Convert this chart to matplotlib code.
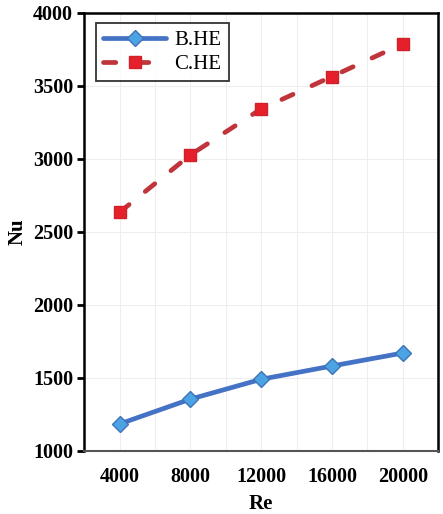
import matplotlib
matplotlib.use("Agg")
import matplotlib.pyplot as plt

re_vals = [4000, 8000, 12000, 16000, 20000]
nu_bhe = [1182, 1352, 1488, 1579, 1668]
nu_che = [2632, 3025, 3340, 3562, 3786]

plt.rcParams['font.family'] = ['Liberation Serif', 'DejaVu Serif']

fig = plt.figure(figsize=(4.43, 5.14), dpi=100)
ax = fig.add_axes([0.19, 0.1235, 0.799, 0.852])

ax.plot(re_vals, nu_bhe, '-', color='#4472C4', lw=3.4, marker='D', ms=8.5,
        mfc='#4BA3E3', mec='#3F73B8', mew=1, label='B.HE',
        solid_capstyle='round')
ax.plot(re_vals, nu_che, '--', color='#C0343C', lw=3.4, dashes=(2.6, 4.4),
        dash_capstyle='round', marker='s', ms=8.5, mfc='#E5202A',
        mec='#D0202A', mew=1, label='C.HE')

ax.set_xlim(2000, 22000)
ax.set_ylim(1000, 4000)
ax.set_xticks(re_vals)
ax.set_xticks(range(2000, 22001, 2000), minor=True)
ax.set_yticks(range(1000, 4001, 500))
ax.grid(which='minor', axis='x', color='#EEEEEE', lw=0.8)
ax.grid(which='major', axis='both', color='#EEEEEE', lw=0.8)
ax.set_axisbelow(True)

ax.tick_params(axis='x', which='both', length=0, pad=12, labelsize=14.5)
ax.tick_params(axis='y', length=5, width=2, direction='out', pad=3, labelsize=14.5)
for lab in ax.get_xticklabels() + ax.get_yticklabels():
    lab.set_fontweight('bold')

for s in ['left', 'top', 'right']:
    ax.spines[s].set_linewidth(1.8)
    ax.spines[s].set_color('black')
ax.spines['bottom'].set_linewidth(1.5)
ax.spines['bottom'].set_color('#555555')

ax.set_xlabel('Re', fontsize=15, fontweight='bold', labelpad=5)
ax.set_ylabel('Nu', fontsize=15, fontweight='bold', labelpad=4)

leg = ax.legend(loc='upper left', fontsize=15, frameon=True, fancybox=False,
                edgecolor='black', handlelength=3.0, borderpad=0.35,
                labelspacing=0.22, handletextpad=0.4, borderaxespad=0,
                bbox_to_anchor=(0.034, 0.976))
leg.get_frame().set_linewidth(1.3)

fig.savefig('out.png', dpi=100)
